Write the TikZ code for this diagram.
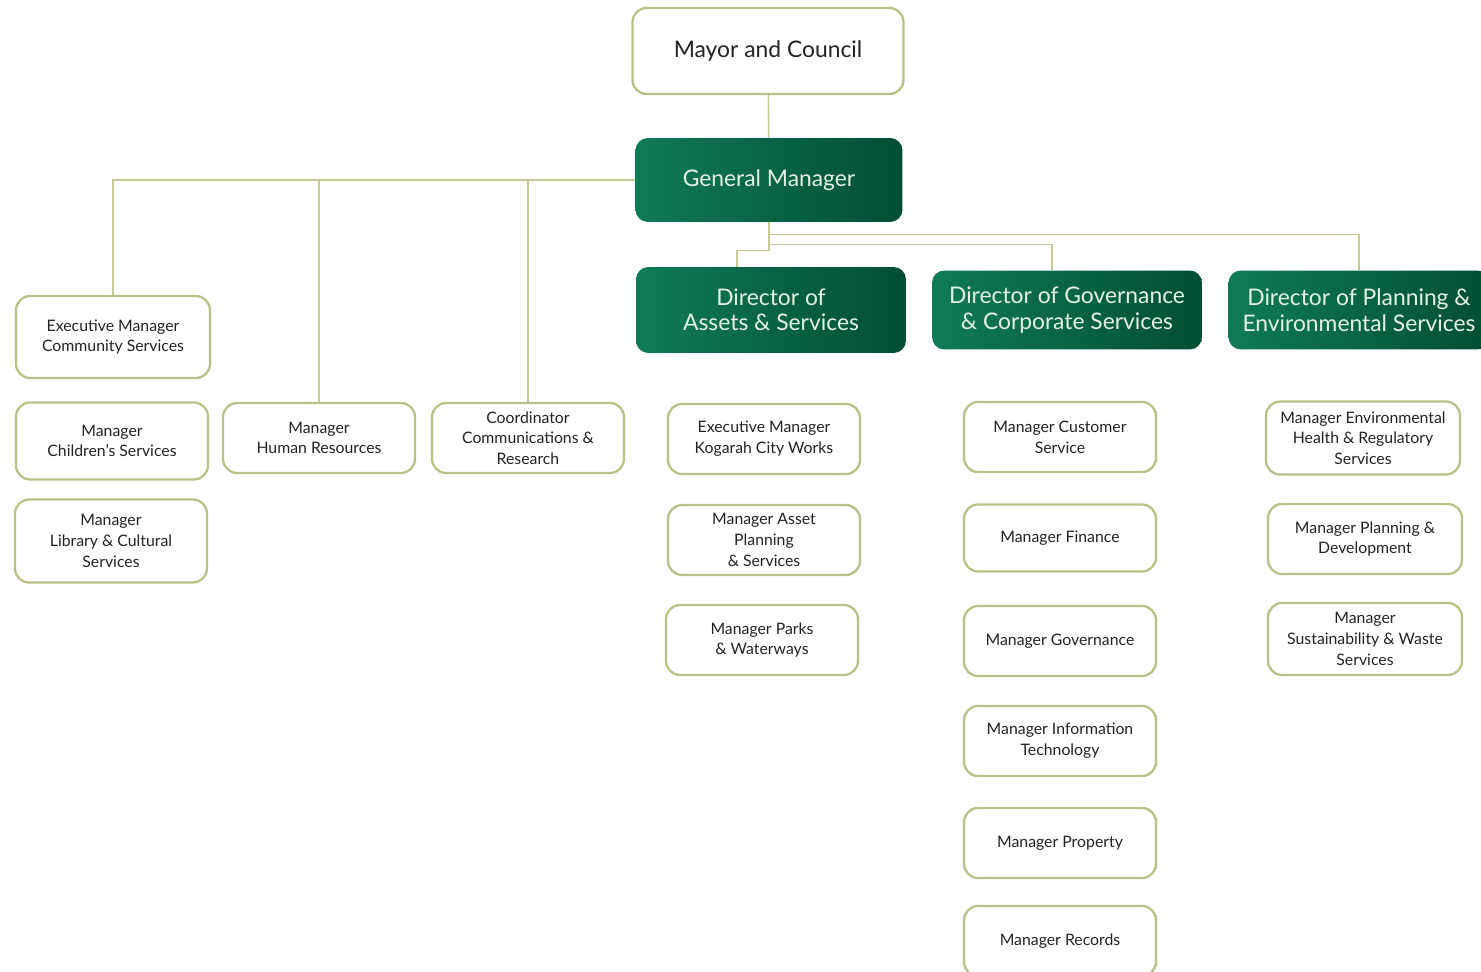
\documentclass[tikz,border=0pt]{standalone}
\usepackage{fontspec}
\setmainfont{Lato}
\usetikzlibrary{positioning}
\definecolor{boxline}{RGB}{184,194,136}
\definecolor{linkline}{RGB}{200,200,150}
\definecolor{greenA}{RGB}{16,122,86}
\definecolor{greenB}{RGB}{2,78,52}
\definecolor{paletext}{RGB}{226,242,228}
\definecolor{inktext}{RGB}{35,35,35}
\tikzstyle{mbox}=[rectangle, rounded corners=8pt, draw=boxline, line width=1.3pt,
  fill=white, font=\fontsize{9}{11.8}\selectfont, text=inktext, align=center,
  minimum width=3.84cm, minimum height=1.4cm, inner sep=1pt]
\tikzstyle{dbox}=[rectangle, rounded corners=7pt, left color=greenA, right color=greenB,
  font=\fontsize{13}{14.5}\selectfont, text=paletext, align=center,
  minimum width=5.4cm, minimum height=1.72cm, inner sep=1pt]
\tikzstyle{conn}=[draw=linkline, line width=0.9pt]

\begin{document}
\begin{tikzpicture}[x=0.02cm, y=-0.02cm]
    \useasboundingbox (0,0) rectangle (1481,972);
    % top of the tree
    \node[mbox, minimum width=5.42cm, minimum height=1.72cm, font=\fontsize{13}{15}\selectfont] (mayor) at (768,51) {Mayor and Council};
    \node[dbox, minimum width=5.34cm, minimum height=1.68cm] (gm) at (769,180) {General Manager};
    \node[dbox] (dassets) at (771,310) {Director of\\Assets \& Services};
    \node[dbox, minimum height=1.58cm] (dgov) at (1067,310) {Director of Governance\\\& Corporate Services};
    \node[dbox, minimum width=5.22cm, minimum height=1.58cm] (dplan) at (1359,310) {Director of Planning \&\\Environmental Services};
    % reporting to the general manager
    \node[mbox, minimum width=3.88cm, minimum height=1.64cm] (ecs) at (113,337) {Executive Manager\\Community Services};
    \node[mbox, minimum height=1.54cm] (child) at (112,441) {Manager\\Children's Services};
    \node[mbox, minimum height=1.66cm] (library) at (111,541) {Manager\\Library \& Cultural\\Services};
    \node[mbox] (hr) at (319,438) {Manager\\Human Resources};
    \node[mbox] (coord) at (528,438) {Coordinator\\Communications \&\\Research};
    % assets and services
    \node[mbox] (kogarah) at (764,439) {Executive Manager\\Kogarah City Works};
    \node[mbox] (assetplan) at (764,540) {Manager Asset\\Planning\\\& Services};
    \node[mbox] (parks) at (762,640) {Manager Parks\\\& Waterways};
    % governance and corporate services
    \node[mbox] (custserv) at (1060,437) {Manager Customer\\Service};
    \node[mbox, minimum height=1.34cm] (finance) at (1060,538) {Manager Finance};
    \node[mbox] (govern) at (1060,641) {Manager Governance};
    \node[mbox] (infotech) at (1060,741) {Manager Information\\Technology};
    \node[mbox] (property) at (1060,843) {Manager Property};
    \node[mbox] (records) at (1060,941) {Manager Records};
    % planning and environmental services
    \node[mbox, minimum width=3.88cm, minimum height=1.46cm] (envhealth) at (1363,438) {Manager Environmental\\Health \& Regulatory\\Services};
    \node[mbox, minimum width=3.88cm] (plandev) at (1365,539) {Manager Planning \&\\Development};
    \node[mbox, minimum width=3.88cm, minimum height=1.44cm] (sustain) at (1365,639) {Manager\\Sustainability \& Waste\\Services};
    % connectors
    \draw[conn] (mayor) -- (gm);
    \draw[conn] (gm.west) -| (ecs.north);
    \draw[conn] (hr.north) -- (hr.north |- gm.west);
    \draw[conn] (coord.north) -- (coord.north |- gm.west);
    \draw[conn] (gm.south) -- ++(0,12) -| (dplan.north);
    \draw[conn] (gm.south) -- ++(0,22) -| ([xshift=-0.3cm]dgov.north);
    \draw[conn] (gm.south) -- ++(0,28) -| ([xshift=-0.68cm]dassets.north);
  \end{tikzpicture}
\end{document}
